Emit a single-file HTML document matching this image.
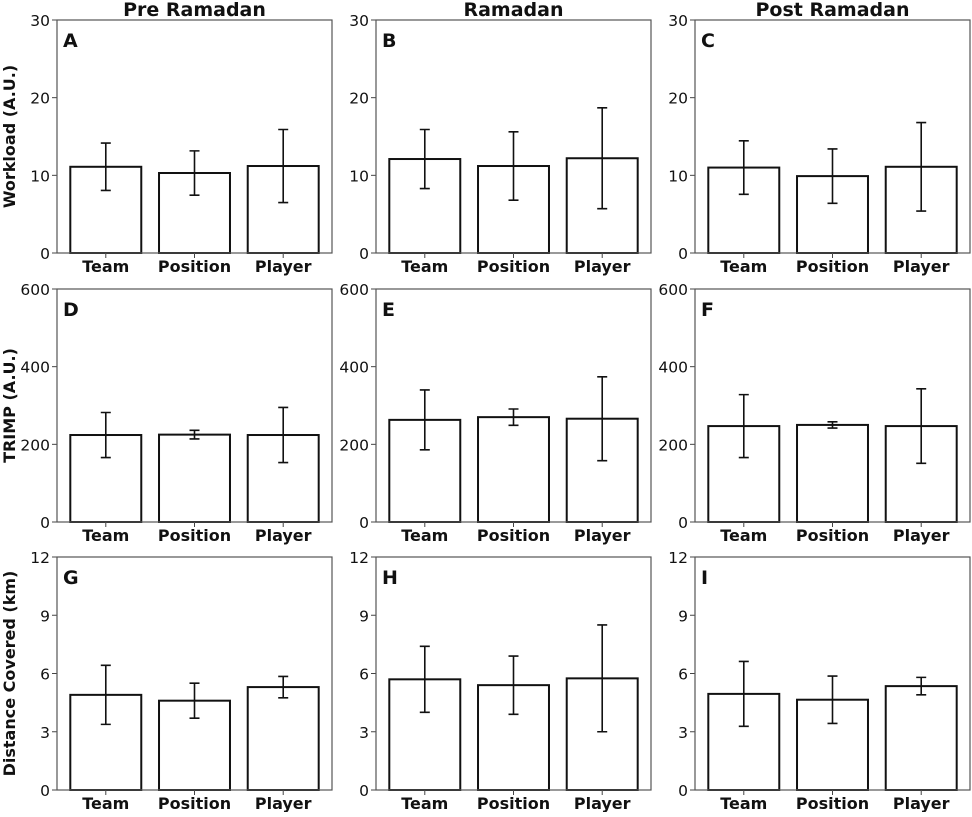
<!DOCTYPE html>
<html><head><meta charset="utf-8"><style>
body{margin:0;background:#fff}
svg text{font-family:"DejaVu Sans","Liberation Sans",sans-serif}
</style></head><body>
<svg id="fig" width="972" height="812" xmlns="http://www.w3.org/2000/svg"></svg>
<script>
const categories=["Team","Position","Player"];
const colTitles=["Pre Ramadan","Ramadan","Post Ramadan"];
const rowLabels=["Workload (A.U.)","TRIMP (A.U.)","Distance Covered (km)"];
const panelLetters=["A","B","C","D","E","F","G","H","I"];
const yMax=[30,600,12];
const yTicks0=[0,10,20,30];
const yTicks1=[0,200,400,600];
const yTicks2=[0,3,6,9,12];
const meansA=[11.1,10.3,11.2], errA=[3.05,2.85,4.7];
const meansB=[12.1,11.2,12.2], errB=[3.8,4.4,6.5];
const meansC=[11.0,9.9,11.1], errC=[3.45,3.5,5.7];
const meansD=[224,225,224], errD=[58,11,71];
const meansE=[263,270,266], errE=[77,21,108];
const meansF=[247,250,247], errF=[81,8,96];
const meansG=[4.9,4.6,5.3], errG=[1.52,0.9,0.55];
const meansH=[5.7,5.4,5.75], errH=[1.7,1.5,2.75];
const meansI=[4.95,4.65,5.35], errI=[1.67,1.22,0.45];
const allMeans=[meansA,meansB,meansC,meansD,meansE,meansF,meansG,meansH,meansI];
const allErr=[errA,errB,errC,errD,errE,errF,errG,errH,errI];
const ticksByRow=[yTicks0,yTicks1,yTicks2];
const NS="http://www.w3.org/2000/svg";
const svg=document.getElementById('fig');
function mk(tag,attrs,parent){const e=document.createElementNS(NS,tag);for(const k in attrs)e.setAttribute(k,attrs[k]);(parent||svg).appendChild(e);return e;}
const lefts=[57,376,695], tops=[20,289,557], W=275, H=233;
for(let r=0;r<3;r++){for(let c=0;c<3;c++){
 const idx=r*3+c, L=lefts[c], T=tops[r], B=T+H;
 const g=mk('g',{});
 
 
 const y=v=>B-v/yMax[r]*H;
 const x=i=>L+(i+0.55)/3.1*W;
 const bw=0.8/3.1*W;
 ticksByRow[r].forEach(t=>{
  const tl=mk('line',{x1:L-5,x2:L,y1:y(t),y2:y(t),stroke:'#444','stroke-width':1},g);
  
  const tx=mk('text',{x:L-7,y:y(t)+6,'text-anchor':'end','font-size':15.5,fill:'#111'},g);
  tx.textContent=t;
  
 });
 categories.forEach((cat,i)=>{
  const m=allMeans[idx][i], e=allErr[idx][i], cx=x(i);
  const rect=mk('rect',{x:cx-bw/2,y:y(m),width:bw,height:B-y(m),fill:'#fff',stroke:'#111','stroke-width':2},g);
  
  const el=mk('path',{d:`M${cx},${y(m-e)}V${y(m+e)}M${cx-5},${y(m-e)}H${cx+5}M${cx-5},${y(m+e)}H${cx+5}`,stroke:'#111','stroke-width':1.6,fill:'none'},g);
  
  mk('line',{x1:cx,x2:cx,y1:B,y2:B+5,stroke:'#444','stroke-width':1},g);
  const lt=mk('text',{x:cx,y:B+19,'text-anchor':'middle','font-size':16,'font-weight':'bold',fill:'#111'},g);
  lt.textContent=cat;
  
 });
 const fr=mk('rect',{x:L,y:T,width:W,height:H,fill:'none',stroke:'#555','stroke-width':1.2},g);
 
 const pl=mk('text',{x:L+6,y:T+27,'font-size':19,'font-weight':'bold',fill:'#111'},g);
 pl.textContent=panelLetters[idx];
 
 if(r===0){const ct=mk('text',{x:L+W/2,y:16,'text-anchor':'middle','font-size':19,'font-weight':'bold',fill:'#111'},g);
  ct.textContent=colTitles[c];
  }
 if(c===0){const yl=mk('text',{x:0,y:0,'text-anchor':'middle','font-size':16,'font-weight':'bold',fill:'#111',transform:`translate(15,${T+H/2}) rotate(-90)`},g);
  yl.textContent=rowLabels[r];
  }
}}
</script>
</body></html>
